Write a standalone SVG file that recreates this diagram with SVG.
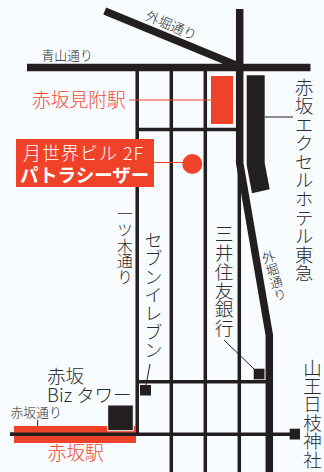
<svg xmlns="http://www.w3.org/2000/svg" width="324" height="472" viewBox="0 0 324 472">
<style>
text{font-family:"Noto Sans CJK JP","Noto Sans",sans-serif;font-weight:300;fill:#2c2a2b}
.v{writing-mode:vertical-rl;text-anchor:start}
.r{fill:#f04a35}
.w{fill:#fff}
.road{stroke:#231f20;fill:none}
.t3{stroke-width:3.5}
.t7{stroke-width:7.5}
.k{fill:#231f20}
.red{fill:#f04129}
.lead{stroke:#231f20;stroke-width:1;fill:none}
.rl{stroke:#f04129;stroke-width:1;fill:none}
</style>
<rect width="324" height="472" fill="#f8fcff"/>
<g id="connectors">
<path class="road t3" d="M137.200 66V436M171.300 66V472M205.300 66V472M239.300 160V472M137 129.500H238M137 381.700H270M10 434.300H290"/>
<path class="road t7" d="M104.700 11L237 65.500M27 67.500H310.500M239.700 9V163L269.300 335V472"/>
<path class="lead" d="M265 117H293M224 340L254 369M150 364L146 385M37.700 420V434"/>
<path class="rl" d="M129 100H211M153 162.500H185"/>
</g>
<g id="akasaka-mitsuke"><rect class="red" x="211" y="76" width="22" height="48"/><text class="r" x="32" y="107" font-size="18.800">赤坂見附駅</text></g>
<g id="tsukisekai"><rect class="red" x="16" y="139" width="138" height="48"/><circle class="red" cx="192.300" cy="164" r="10"/><text class="w" x="23" y="160" font-size="18" letter-spacing="1">月世界ビル 2F</text><text class="w" x="20" y="182" font-size="18.500" style="font-weight:700">パトラシーザー</text></g>
<g id="excel-hotel"><path class="k" d="M246.700 75.300H264.700V163L269.700 189.300L252 193.300L246.700 165Z"/><text class="v" x="304" y="78" font-size="18.600">赤坂エクセルホテル東急</text></g>
<g id="seven"><rect class="k" x="140" y="385" width="11" height="10.500"/><text class="v" x="153.500" y="231" font-size="18.300">セブンイレブン</text></g>
<g id="mitsui"><rect class="k" x="253.700" y="368.700" width="10.800" height="10.600"/><text class="v" x="224" y="225" font-size="18.700">三井住友銀行</text></g>
<g id="hie"><rect class="k" x="289.700" y="428.700" width="10.300" height="10.800"/><text class="v" x="312.500" y="358.500" font-size="18.400">山王日枝神社</text></g>
<g id="akasaka-st"><rect class="red" x="14" y="426" width="122" height="17"/><path class="road" stroke-width="3.500" d="M10 434.300H138"/><text class="r" x="47.500" y="459.500" font-size="18.800">赤坂駅</text></g>
<g id="biz"><rect class="k" x="107.700" y="405" width="25.600" height="25.700" stroke="#f8fcff" stroke-width="1"/><text x="47" y="383" font-size="18.500">赤坂</text><text x="47" y="402" font-size="18.500">Biz タワー</text></g>
<g id="labels">
<text x="41.500" y="60" font-size="12.800">青山通り</text>
<text x="10.500" y="417" font-size="12.800">赤坂通り</text>
<text transform="translate(144.500 19.500) rotate(23)" font-size="13.500">外堀通り</text>
<text class="v" x="125" y="206" font-size="15.800">一ツ木通り</text>
<text class="v" transform="translate(266.500 251) rotate(-17)" font-size="13">外堀通り</text>
</g>
</svg>
